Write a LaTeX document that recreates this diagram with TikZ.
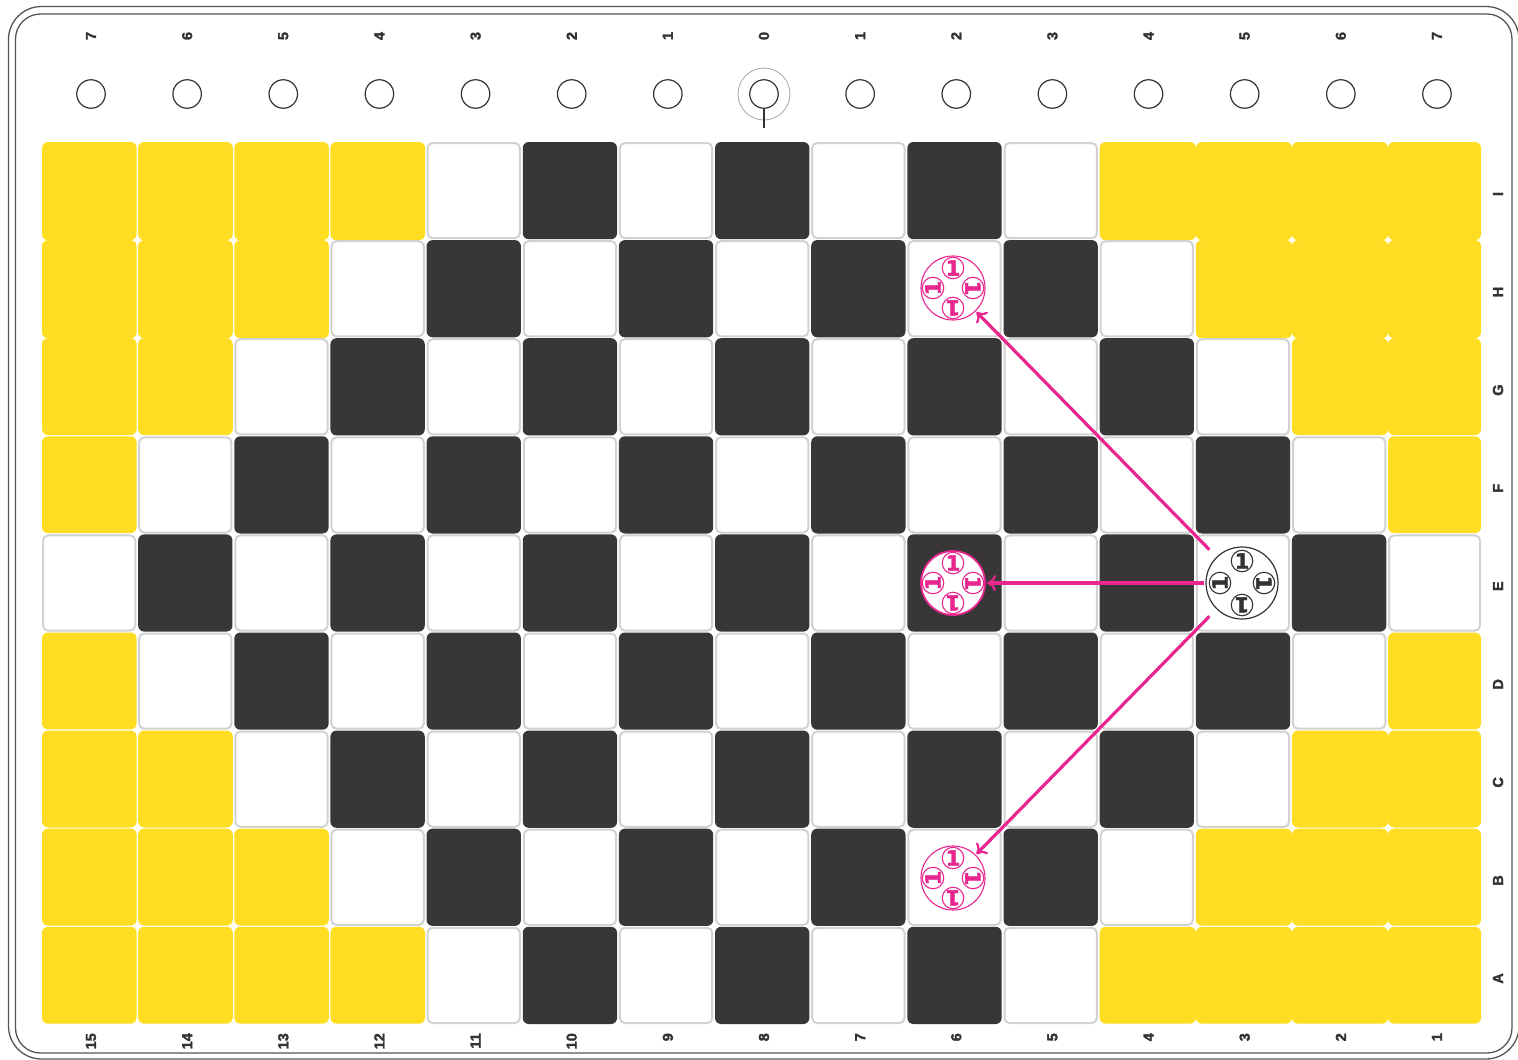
\documentclass[tikz,border=0pt]{standalone}
\usepackage{fontspec}
\setmainfont{Liberation Sans}
\newfontfamily\pieceglyph[FakeBold=1.5]{DejaVu Sans Bold}
\newfontfamily\scalefont[FakeBold=2]{Liberation Sans Bold}
\usetikzlibrary{arrows.meta}
\definecolor{cellyellow}{HTML}{FFDD22}
\definecolor{celldark}{HTML}{383636}
\definecolor{cellline}{HTML}{D2D2D2}
\definecolor{movepink}{HTML}{E9258F}
\definecolor{frameline}{HTML}{555555}
\definecolor{ink}{HTML}{333333}
\tikzset{
  frameedge/.style={draw=frameline,line width=1.3pt,rounded corners=#1},
  yellowcell/.style={fill=cellyellow,rounded corners=6pt},
  darkcell/.style={fill=celldark,rounded corners=6pt},
  whitecell/.style={draw=cellline,fill=white,line width=2pt,rounded corners=5pt},
  scalelabel/.style={font=\scalefont\fontsize{14.5}{15}\selectfont,text=ink,rotate=90,inner sep=0pt},
  hole/.style={circle,draw=ink,line width=1.2pt,minimum size=28.5pt,inner sep=0pt},
  holering/.style={circle,draw=gray!70,line width=.8pt,minimum size=52pt,inner sep=0pt},
  disc/.style={circle,inner sep=0pt,fill=white},
  slot/.style={circle,inner sep=0pt,fill=white,minimum size=21.5pt,font=\pieceglyph\fontsize{21}{21}\selectfont},
  movearrow/.style={draw=movepink,line width=3.2pt,-{To[length=9pt,width=16pt,line width=2.2pt]}},
}
\newcommand{\gamepiece}[6]{% name, x, y, colour, radius, line width
  \node[disc,draw=#4,line width=#6,minimum size=#5*2pt] (#1) at (#2,#3) {};
}
\newcommand{\pieceslots}[4]{% name, colour, offset, slot line
  \node[slot,draw=#2,line width=#4,text=#2] (#1t) at ([yshift=#3pt]#1.center) {\rotatebox{0}{1}};
  \node[slot,draw=#2,line width=#4,text=#2] (#1b) at ([yshift=-#3pt]#1.center) {\rotatebox{180}{1}};
  \node[slot,draw=#2,line width=#4,text=#2] (#1l) at ([xshift=-#3pt]#1.center) {\rotatebox{90}{1}};
  \node[slot,draw=#2,line width=#4,text=#2] (#1r) at ([xshift=#3pt]#1.center) {\rotatebox{-90}{1}};
}
\begin{document}
\begin{tikzpicture}[x=1pt,y=-1pt]
\useasboundingbox (0,0) rectangle (1518,1060);
\fill[white] (0,0) rectangle (1518,1060);
\draw[frameedge=33pt] (8.5,6.5) rectangle (1519,1059);
\draw[frameedge=25pt] (15.5,14) rectangle (1512,1053);
% cells
\foreach \r in {0,...,8}{
  \foreach \c in {0,...,14}{
    \pgfmathsetmacro{\xa}{42+96.15*\c}
    \pgfmathsetmacro{\ya}{142+98.1*\r}
    \pgfmathtruncatemacro{\d}{abs(\r-4)}
    \pgfmathtruncatemacro{\isy}{(\c<=\d-1)||(\c>=15-\d)?1:0}
    \pgfmathtruncatemacro{\isd}{mod(\r+\c,2)}
    \ifnum\isy=1
      \pgfmathsetmacro{\xb}{\c==14?1481:(\xa+(\c>=11?96.2:94.6))}
      \pgfmathsetmacro{\yb}{\ya+(\r<=1?98.2:96.9)}
      \path[yellowcell] (\xa,\ya) rectangle (\xb,\yb);
    \else
      \pgfmathsetmacro{\xb}{\c==14?1481:(\xa+94.3)}
      \pgfmathsetmacro{\yb}{\ya+97.2}
      \ifnum\isd=1
        \path[darkcell] (\xa,\ya) rectangle (\xb,\yb);
      \else
        \path[whitecell] (\xa+1,\ya+1) rectangle (\xb-1,\yb-1);
      \fi
    \fi
  }
}
% top holes and labels
\foreach \i/\t in {0/7,1/6,2/5,3/4,4/3,5/2,6/1,7/0,8/1,9/2,10/3,11/4,12/5,13/6,14/7}{
  \pgfmathsetmacro{\x}{91+96.14*\i}
  \node[hole] (h\i) at (\x,94) {};
  \node[scalelabel] (lt\i) at (\x,36) {\t};
}
\node[holering] (ring) at (h7) {};
\coordinate (tickend) at (h7 |- 0,128);
\draw[ink,line width=1.2pt] (h7.south) -- (tickend);
% bottom labels
\foreach \i/\t in {0/15,1/14,2/13,3/12,4/11,5/10,6/9,7/8,8/7,9/6,10/5,11/4,12/3,13/2,14/1}{
  \pgfmathsetmacro{\x}{91+96.14*\i}
  \node[scalelabel,anchor=east] (lb\i) at (\x,1033) {\t};
}
% right labels
\foreach \i/\t in {0/I,1/H,2/G,3/F,4/E,5/D,6/C,7/B,8/A}{
  \pgfmathsetmacro{\y}{194+98.05*\i}
  \node[scalelabel] (lr\i) at (1498,\y) {\t};
}
% pieces
\gamepiece{src}{1242}{583}{ink}{36}{1.2pt}
\pieceslots{src}{ink}{22}{1.1pt}
\gamepiece{ta}{953}{288}{movepink}{32}{1.1pt}
\pieceslots{ta}{movepink}{20}{1.1pt}
\gamepiece{tb}{953}{583}{movepink}{32}{1.8pt}
\pieceslots{tb}{movepink}{20}{1.1pt}
\gamepiece{tc}{953}{878}{movepink}{32}{1.1pt}
\pieceslots{tc}{movepink}{20}{1.1pt}
% moves
\draw[movearrow,shorten <=10pt,shorten >=1pt] (src) -- (ta);
\draw[movearrow,shorten <=1pt,shorten >=1pt] (src) -- (tb);
\draw[movearrow,shorten <=10pt,shorten >=1pt] (src) -- (tc);
\end{tikzpicture}
\end{document}
